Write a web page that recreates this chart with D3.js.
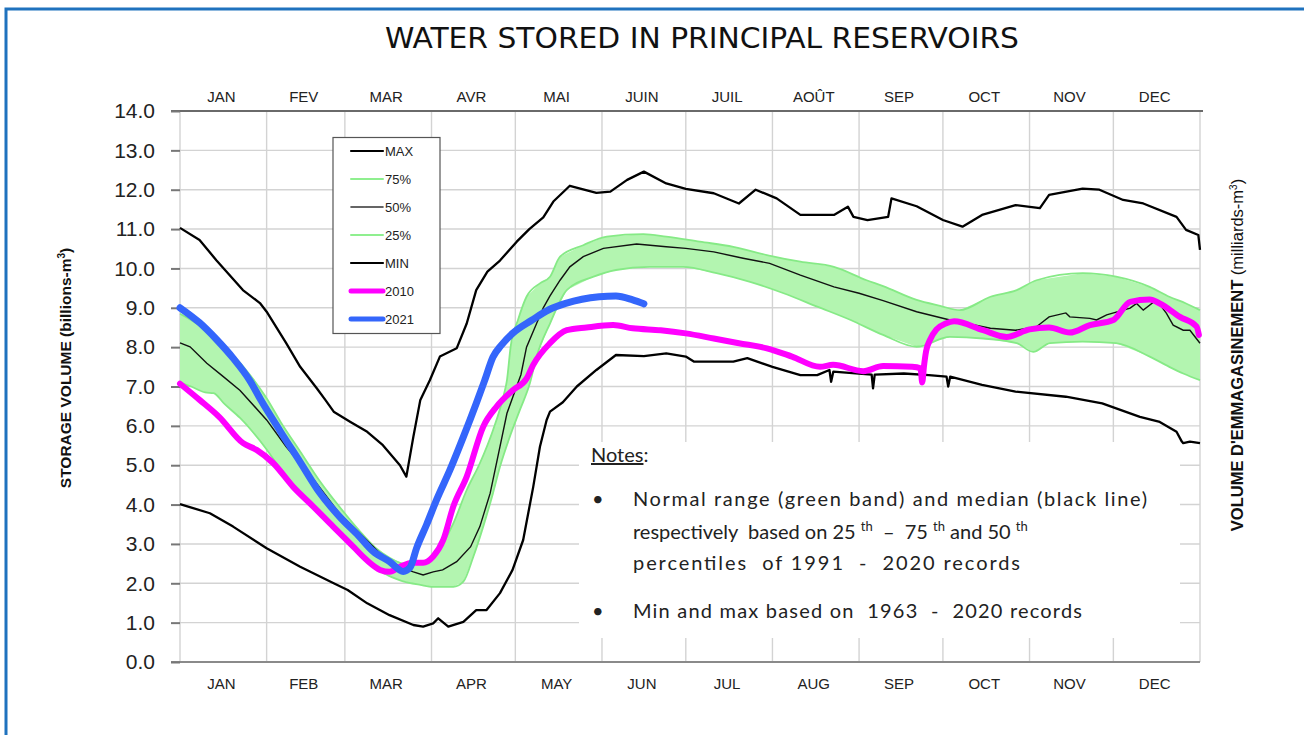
<!DOCTYPE html>
<html><head><meta charset="utf-8">
<script src="https://cdn.jsdelivr.net/npm/d3@7"></script>
<style>body{margin:0;background:#fff} svg{display:block} .pre{white-space:pre}</style>
</head><body><svg id="c" width="1304" height="735"></svg>
<script>
// ---------- DATA ----------
const monthStarts = [0,31,59,90,120,151,181,212,243,273,304,334,365];
const monthsTop = ["JAN","FEV","MAR","AVR","MAI","JUIN","JUIL","AOÛT","SEP","OCT","NOV","DEC"];
const monthsBottom = ["JAN","FEB","MAR","APR","MAY","JUN","JUL","AUG","SEP","OCT","NOV","DEC"];
const yTicks = [0,1,2,3,4,5,6,7,8,9,10,11,12,13,14];

// [day of year, billions m3]
const maxSeries = [[0,11.03],[7,10.72],[13,10.21],[22.5,9.45],[28.6,9.12],[31,8.9],[38,8.1],[43,7.5],[49,6.95],[52,6.66],[55,6.36],[61,6.1],[67,5.85],[72.6,5.51],[78.7,5.0],[81,4.71],[83.5,5.72],[86,6.66],[89.4,7.16],[93,7.76],[99,7.97],[102.6,8.6],[106,9.45],[110,9.92],[114.5,10.2],[120.5,10.68],[125,11.0],[130,11.3],[133.6,11.7],[139.5,12.1],[149,11.92],[154,11.95],[160,12.25],[166,12.46],[174,12.16],[181,12.02],[191,11.91],[200,11.65],[206,12.0],[213.5,11.78],[222,11.36],[234,11.36],[239,11.57],[241,11.31],[246,11.23],[253.4,11.31],[254.6,11.78],[263.6,11.58],[273,11.23],[280,11.06],[287,11.36],[299,11.61],[307.7,11.53],[311,11.87],[323,12.03],[329,12.0],[337.5,11.74],[344.7,11.65],[356.6,11.31],[360,10.98],[364.4,10.85],[365,10.47]];
const minSeries = [[0,4.01],[10.7,3.78],[19,3.44],[31,2.89],[43,2.42],[55,2.0],[60,1.83],[67,1.49],[75,1.19],[83.5,0.94],[87,0.9],[90.6,0.98],[92.4,1.11],[96,0.9],[101.4,1.02],[106,1.32],[109.7,1.32],[114.5,1.75],[119,2.34],[122.8,3.1],[126.4,4.45],[128.8,5.47],[131.2,6.15],[132.4,6.36],[137,6.6],[142,7.0],[149,7.42],[156,7.8],[166,7.77],[174,7.84],[181,7.76],[184,7.63],[198,7.63],[203,7.72],[212,7.5],[222,7.29],[228,7.29],[232.4,7.42],[233,7.12],[233.8,7.38],[247.5,7.3],[248,6.95],[248.6,7.3],[259,7.33],[268,7.29],[274.3,7.25],[274.9,7.0],[275.6,7.25],[287,7.04],[299,6.87],[317,6.74],[330,6.57],[343.5,6.23],[350.6,6.1],[356.6,5.85],[358.5,5.6],[359,5.56],[361.4,5.6],[365,5.56]];
const median50 = [[0,8.11],[3.6,8.01],[9.6,7.59],[15.5,7.25],[21.5,6.9],[31,6.15],[38,5.47],[48,4.62],[57,3.78],[65.6,3.18],[72.7,2.68],[78.7,2.42],[83.5,2.29],[87,2.21],[90.6,2.29],[94,2.34],[99,2.55],[104,2.93],[107.3,3.44],[111,4.29],[114.5,5.47],[117,6.32],[120,6.91],[122,7.3],[124,8.0],[127.6,8.6],[130,9.0],[132.4,9.3],[136,9.7],[139.5,10.04],[144.3,10.3],[151.5,10.51],[163.4,10.62],[174,10.55],[181,10.51],[191,10.42],[201.5,10.26],[211,10.13],[222,9.83],[234,9.53],[243,9.37],[251.6,9.18],[263.6,8.9],[275.5,8.69],[290,8.48],[299,8.43],[306.5,8.52],[311,8.77],[317,8.87],[318.4,8.77],[325.6,8.73],[328,8.69],[331.6,8.82],[340,8.99],[342.3,9.11],[344.7,8.94],[349.4,9.2],[353,8.86],[355.4,8.56],[359,8.43],[361.4,8.43],[365,8.1]];
const upper75 = [[0,8.85],[7,8.55],[13,8.2],[19,7.8],[25,7.3],[31,6.7],[36,6.1],[43,5.35],[50,4.6],[57,3.95],[64,3.35],[70,2.9],[75,2.65],[80,2.5],[85,2.5],[90,2.65],[95.4,3.18],[97.8,3.52],[102.6,4.37],[107.3,5.05],[112,5.89],[115.7,6.74],[117,7.16],[118.3,8.0],[121,8.7],[124,9.28],[128.8,9.62],[132.4,9.79],[136,10.3],[144.3,10.59],[152.7,10.81],[165.8,10.87],[174,10.81],[186,10.68],[198,10.55],[210,10.34],[222,10.17],[234,10.04],[245.7,9.7],[251.6,9.55],[263.6,9.2],[272,9.05],[279,8.94],[290,9.28],[299.4,9.45],[306.5,9.7],[323,9.88],[335,9.79],[347,9.53],[354,9.28],[360,9.11],[365,8.94]];
const lower25 = [[0,7.1],[4,7.0],[9,6.85],[12,6.83],[16,6.55],[21.5,6.2],[31,5.4],[36,4.9],[40,4.55],[47,4.0],[55,3.45],[62,2.95],[67,2.62],[72,2.3],[76,2.15],[79,2.07],[86,1.96],[90.6,1.91],[97.8,1.91],[101.4,2.04],[105,2.68],[108.5,3.44],[112,4.29],[114.5,4.96],[118,5.72],[121.6,6.4],[125.2,7.08],[127.6,7.76],[132.4,8.6],[138.4,9.45],[148,9.79],[156,9.96],[168,10.04],[180,10.04],[192,9.88],[204,9.66],[216,9.37],[228,9.03],[240,8.69],[251.6,8.31],[263.6,8.01],[275.5,8.26],[287.4,8.22],[299.4,8.1],[305.3,7.88],[311.3,8.1],[323,8.14],[335,8.1],[347,7.76],[354,7.5],[359,7.33],[365,7.16]];
const year2010 = [[0,7.07],[7,6.66],[14,6.23],[22.6,5.56],[27.4,5.39],[33.4,5.05],[40.5,4.45],[47.7,3.95],[54.8,3.44],[62,2.93],[66.8,2.59],[71.6,2.34],[75,2.29],[78.7,2.42],[83.5,2.52],[87,2.52],[90.6,2.68],[94.2,3.1],[97.8,3.95],[102.6,4.71],[108.5,5.98],[113.3,6.49],[119,6.9],[124,7.2],[126.4,7.55],[132.4,8.1],[138.4,8.43],[145.5,8.5],[155,8.56],[162,8.48],[172,8.43],[181,8.35],[191,8.22],[200,8.1],[210,7.97],[219,7.76],[229,7.5],[233.7,7.55],[244.5,7.39],[251.6,7.52],[262,7.5],[265,7.46],[265.6,7.1],[266.2,7.5],[267,7.9],[268.5,8.2],[270.7,8.45],[274,8.6],[277,8.66],[287.4,8.43],[295.8,8.26],[304,8.45],[311,8.5],[318.4,8.37],[325.6,8.56],[334,8.69],[340,9.15],[347,9.21],[350.6,9.11],[357.8,8.77],[363.8,8.52],[364.6,8.31]];
const year2021 = [[0,9.0],[7,8.62],[13,8.2],[19,7.72],[25,7.15],[29,6.65],[36,5.85],[43,5.08],[50,4.3],[57,3.7],[64,3.2],[69,2.82],[75,2.55],[79.9,2.3],[82.3,2.4],[84.7,2.9],[88.3,3.5],[91.8,4.12],[96.6,4.88],[101.4,5.72],[106,6.57],[109,7.15],[112,7.75],[115,8.05],[119,8.35],[126,8.69],[132,8.95],[138,9.11],[150,9.28],[156,9.3],[162,9.2],[166,9.1]];

const legendLabels = ["MAX","75%","50%","25%","MIN","2010","2021"];
const noteLines = ["Normal range (green band) and median (black line)","percentiles  of 1991  -  2020 records","Min and max based on  1963  -  2020 records"];

// ---------- DRAW ----------
const svg = d3.select("#c");
const x = d3.scaleLinear([0,365],[180,1200]);
const y = d3.scaleLinear([0,14],[662,111]);
const F = "Liberation Sans, Arial, sans-serif";

// blue frame
svg.append("path").attr("d","M6,740 V9 H1310").attr("fill","none").attr("stroke","#1f72be").attr("stroke-width",3);

// title
svg.append("text").attr("x",702).attr("y",48).attr("text-anchor","middle")
  .attr("font-family","Liberation Sans Narrow, DejaVu Sans Condensed, Arial Narrow, sans-serif")
  .attr("font-size",29).attr("fill","#111").attr("textLength",634).attr("lengthAdjust","spacingAndGlyphs")
  .text("WATER STORED IN PRINCIPAL RESERVOIRS");

// grid
const grid = svg.append("g");
grid.selectAll("line.h").data(yTicks).join("line")
  .attr("x1",180).attr("x2",1200).attr("y1",d=>y(d)).attr("y2",d=>y(d))
  .attr("stroke","#d3d3d3").attr("stroke-width",1.4);
grid.selectAll("line.v").data(monthStarts).join("line")
  .attr("x1",d=>x(d)).attr("x2",d=>x(d)).attr("y1",y(14)).attr("y2",y(0))
  .attr("stroke","#d3d3d3").attr("stroke-width",1.4);
svg.append("line").attr("x1",171).attr("x2",1203).attr("y1",y(14)).attr("y2",y(14)).attr("stroke","#6a6a6a").attr("stroke-width",2);
svg.append("line").attr("x1",171).attr("x2",1200).attr("y1",y(0)).attr("y2",y(0)).attr("stroke","#8a8a8a").attr("stroke-width",2.2);

// y axis
const ya = svg.append("g").attr("transform","translate(180,0)")
  .call(d3.axisLeft(y).tickValues(yTicks).tickFormat(d3.format(".1f")).tickSize(9).tickPadding(16));
ya.select(".domain").remove();
ya.selectAll(".tick line").attr("stroke","#777").attr("stroke-width",2);
ya.selectAll("text").attr("font-family",F).attr("font-size",21).attr("fill","#222");

// month labels
const mid = i => x((monthStarts[i]+monthStarts[i+1])/2) - 2;
svg.append("g").selectAll("text").data(monthsTop).join("text")
  .attr("x",(d,i)=>mid(i)).attr("y",102).attr("text-anchor","middle")
  .attr("font-family",F).attr("font-size",15).attr("fill","#222").text(d=>d);
svg.append("g").selectAll("text").data(monthsBottom).join("text")
  .attr("x",(d,i)=>mid(i)).attr("y",689).attr("text-anchor","middle")
  .attr("font-family",F).attr("font-size",15).attr("fill","#222").text(d=>d);

// axis titles
const lt = svg.append("text").attr("transform","translate(71,368) rotate(-90)").attr("text-anchor","middle")
  .attr("font-family",F).attr("font-size",15.5).attr("font-weight","bold").attr("fill","#111");
lt.append("tspan").text("STORAGE VOLUME (billions-m");
lt.append("tspan").attr("font-size",10).attr("dy",-6).text("3");
lt.append("tspan").attr("dy",6).text(")");
const rt = svg.append("text").attr("transform","translate(1243,355) rotate(-90)").attr("text-anchor","middle")
  .attr("font-family",F).attr("font-size",16.5).attr("fill","#111");
rt.append("tspan").attr("font-weight","bold").text("VOLUME D'EMMAGASINEMENT ");
rt.append("tspan").text("(milliards-m");
rt.append("tspan").attr("font-size",10).attr("dy",-6).text("3");
rt.append("tspan").attr("dy",6).text(")");

// notes box (white, covers grid)
svg.append("rect").attr("x",579).attr("y",442).attr("width",601).attr("height",196).attr("fill","#fff");

// curves
const plot = svg.append("g");
const line = d3.line().x(d=>x(d[0])).y(d=>y(d[1]));
const smooth = d3.line().x(d=>x(d[0])).y(d=>y(d[1])).curve(d3.curveMonotoneX);
const bandPts = upper75.concat(lower25.slice().reverse());
plot.append("path").attr("d", line(bandPts)+"Z").attr("fill","#b3f5b0").attr("stroke","none");
plot.append("path").attr("d",smooth(upper75)).attr("fill","none").attr("stroke","#86ea86").attr("stroke-width",1.8);
plot.append("path").attr("d",smooth(lower25)).attr("fill","none").attr("stroke","#86ea86").attr("stroke-width",1.8);
plot.append("path").attr("d",line(median50)).attr("fill","none").attr("stroke","#111").attr("stroke-width",1.4);
plot.append("path").attr("d",line(maxSeries)).attr("fill","none").attr("stroke","#000").attr("stroke-width",2.3).attr("stroke-linejoin","round");
plot.append("path").attr("d",line(minSeries)).attr("fill","none").attr("stroke","#000").attr("stroke-width",2.3).attr("stroke-linejoin","round");
plot.append("path").attr("d",smooth(year2010)).attr("fill","none").attr("stroke","#ff00ff").attr("stroke-width",6).attr("stroke-linecap","round").attr("stroke-linejoin","round");
plot.append("path").attr("d",smooth(year2021)).attr("fill","none").attr("stroke","#3466fb").attr("stroke-width",7).attr("stroke-linecap","round").attr("stroke-linejoin","round");

// legend
const lg = svg.append("g");
lg.append("rect").attr("x",333).attr("y",137.5).attr("width",107).attr("height",196).attr("fill","#fff").attr("stroke","#555").attr("stroke-width",1.2);
const lgStyle = [["#000",2.2],["#8fef8f",2],["#333",1.6],["#8fef8f",2],["#000",2.2],["#ff00ff",5],["#3466fb",5]];
const ly = i => 151 + i*28;
lg.selectAll("line").data(legendLabels).join("line")
  .attr("x1",351).attr("x2",383).attr("y1",(d,i)=>ly(i)).attr("y2",(d,i)=>ly(i))
  .attr("stroke",(d,i)=>lgStyle[i][0]).attr("stroke-width",(d,i)=>lgStyle[i][1]).attr("stroke-linecap","round");
lg.selectAll("text").data(legendLabels).join("text")
  .attr("x",385).attr("y",(d,i)=>ly(i)+5).attr("font-family",F).attr("font-size",13).attr("fill","#222").text(d=>d);

// notes text
const NF = "Lato, Open Sans, sans-serif";
const nt = svg.append("g").attr("font-family",NF).attr("font-size",20).attr("fill","#222");
const n0 = nt.append("text").attr("x",591).attr("y",462);
n0.append("tspan").attr("text-decoration","underline").text("Notes");
n0.append("tspan").text(":");
nt.append("text").attr("x",592).attr("y",506).text("•");
nt.append("text").attr("x",633).attr("y",506).attr("textLength",514).attr("lengthAdjust","spacing").text(noteLines[0]);
const n2 = nt.append("text").attr("class","pre").attr("x",633).attr("y",539).attr("fill","#222");
n2.append("tspan").text("respectively  based on 25 ");
n2.append("tspan").attr("font-size",13).attr("dy",-8).attr("fill","#222").text("th");
n2.append("tspan").attr("dy",8).text("  –  75 ");
n2.append("tspan").attr("font-size",13).attr("dy",-8).attr("fill","#222").text("th");
n2.append("tspan").attr("dy",8).text(" and 50 ");
n2.append("tspan").attr("font-size",13).attr("dy",-8).attr("fill","#222").text("th");
nt.append("text").attr("class","pre").attr("x",633).attr("y",570).attr("textLength",387).attr("lengthAdjust","spacing").text(noteLines[1]);
nt.append("text").attr("x",592).attr("y",618).text("•");
nt.append("text").attr("class","pre").attr("x",633).attr("y",618).attr("textLength",449).attr("lengthAdjust","spacing").text(noteLines[2]);
</script></body></html>
